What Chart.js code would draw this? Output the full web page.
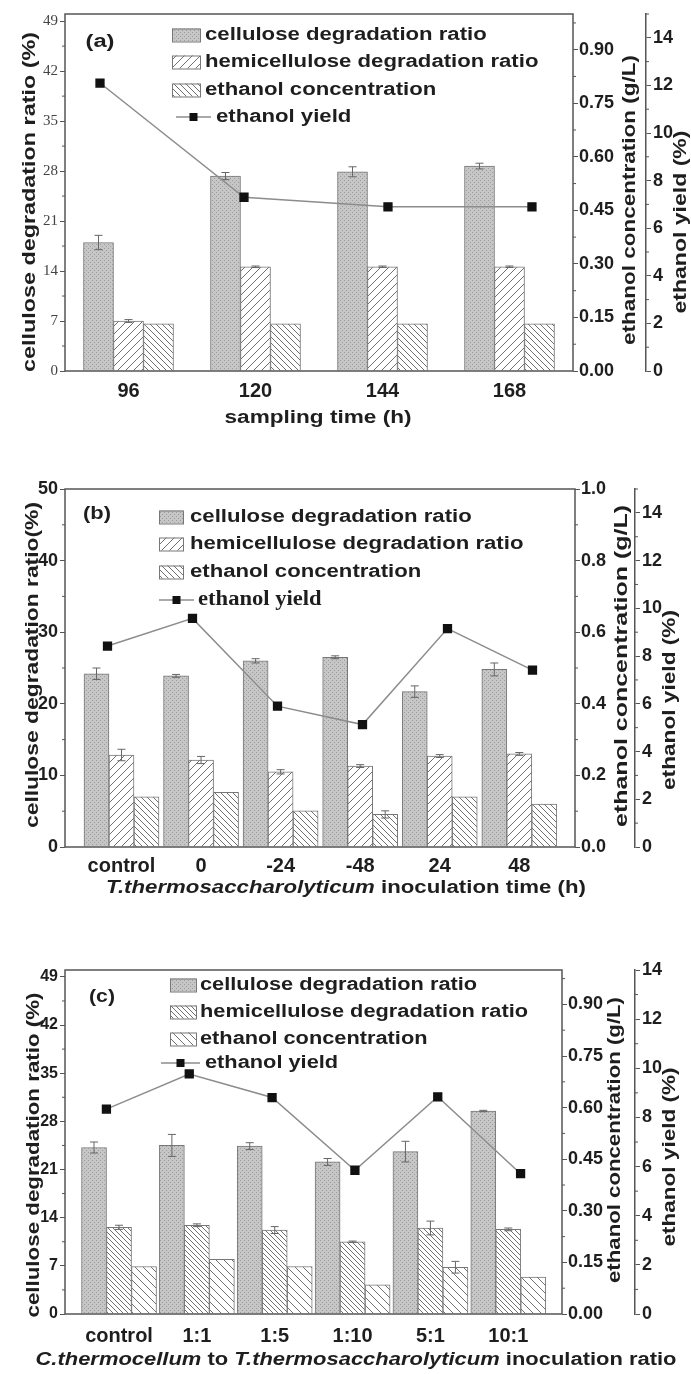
<!DOCTYPE html>
<html>
<head>
<meta charset="utf-8">
<script src="https://cdn.jsdelivr.net/npm/chart.js@4.4.0/dist/chart.umd.min.js"></script>
<style>
  html, body { margin: 0; padding: 0; background: #fff; }
  #wrap { position: relative; width: 691px; height: 1374px; }
  canvas { position: absolute; left: 0; }
</style>
</head>
<body>
<div id="wrap">
  <canvas id="ca" width="691" height="440" style="top:0"></canvas>
  <canvas id="caL" width="691" height="440" style="top:0"></canvas>
  <canvas id="cb" width="691" height="460" style="top:440px"></canvas>
  <canvas id="cbL" width="691" height="460" style="top:440px"></canvas>
  <canvas id="cc" width="691" height="474" style="top:900px"></canvas>
  <canvas id="ccL" width="691" height="474" style="top:900px"></canvas>
</div>
<script>
// ---- panel (a): sampling time
const timeLabels = ['96', '120', '144', '168'];
const celluloseA = [18.0, 27.3, 27.9, 28.7];
const celluloseErrA = [1.0, 0.5, 0.7, 0.4];
const hemiA = [7.0, 14.6, 14.6, 14.6];
const hemiErrA = [0.2, 0.1, 0.1, 0.1];
const ethanolA = [0.132, 0.132, 0.132, 0.132];
const yieldA = [12.1, 7.3, 6.9, 6.9];

// ---- panel (b): inoculation time
const inocLabels = ['control', '0', '-24', '-48', '24', '48'];
const celluloseB = [24.2, 23.9, 26.0, 26.5, 21.7, 24.8];
const celluloseErrB = [0.8, 0.2, 0.3, 0.2, 0.8, 0.9];
const hemiB = [12.85, 12.15, 10.5, 11.3, 12.7, 13.0];
const hemiErrB = [0.8, 0.5, 0.3, 0.2, 0.2, 0.2];
const ethanolB = [0.14, 0.153, 0.101, 0.091, 0.14, 0.12];
const ethanolErrB = [0, 0, 0, 0.01, 0, 0];
const yieldB = [8.42, 9.58, 5.9, 5.13, 9.15, 7.41];

// ---- panel (c): inoculation ratio
const ratioLabels = ['control', '1:1', '1:5', '1:10', '5:1', '10:1'];
const celluloseC = [24.2, 24.5, 24.4, 22.1, 23.6, 29.5];
const celluloseErrC = [0.8, 1.6, 0.5, 0.5, 1.5, 0.1];
const hemiC = [12.6, 12.9, 12.2, 10.5, 12.5, 12.3];
const hemiErrC = [0.3, 0.2, 0.5, 0.1, 1.0, 0.2];
const ethanolC = [0.138, 0.159, 0.138, 0.085, 0.136, 0.107];
const ethanolErrC = [0, 0, 0, 0, 0.017, 0];
const yieldC = [8.34, 9.77, 8.81, 5.85, 8.84, 5.71];

const W = 691;
const SANS = '"Liberation Sans", Arial, sans-serif';
const SERIF = '"Liberation Serif", "Times New Roman", serif';
const INK = '#1e1e1e';

// fill patterns
function dots() {
  const c = document.createElement('canvas');
  c.width = c.height = 4;
  const g = c.getContext('2d');
  g.fillStyle = '#c6c6c6';
  g.fillRect(0, 0, 4, 4);
  g.fillStyle = '#9c9c9c';
  g.fillRect(0, 0, 1, 1);
  g.fillRect(2, 2, 1, 1);
  return g.createPattern(c, 'repeat');
}
function hatch(dir, gap, color) {
  const c = document.createElement('canvas');
  c.width = c.height = gap;
  const g = c.getContext('2d');
  g.fillStyle = '#fff';
  g.fillRect(0, 0, gap, gap);
  g.strokeStyle = color;
  g.lineWidth = 1;
  g.beginPath();
  for (let k = -1; k <= 1; k++) {
    if (dir > 0) { g.moveTo(k * gap, gap); g.lineTo(k * gap + gap, 0); }
    else { g.moveTo(k * gap, 0); g.lineTo(k * gap + gap, gap); }
  }
  g.stroke();
  return g.createPattern(c, 'repeat');
}

// text drawn with a horizontal stretch along its own direction
function drawRuns(ctx, runs, cx, cy, opt) {
  ctx.save();
  const fam = opt.family || SANS;
  const fonts = runs.map(r => (r[1] ? 'italic ' : '') + (opt.weight || 'bold') + ' ' + opt.size + 'px ' + fam);
  let total = 0;
  const widths = runs.map((r, i) => {
    ctx.font = fonts[i];
    const w = ctx.measureText(r[0]).width;
    total += w;
    return w;
  });
  const sx = opt.len ? opt.len / total : (opt.sx || 1);
  ctx.translate(cx, cy);
  if (opt.rot) ctx.rotate(opt.rot);
  ctx.scale(sx, 1);
  ctx.fillStyle = INK;
  ctx.textBaseline = 'middle';
  ctx.textAlign = 'left';
  let x = opt.align === 'left' ? 0 : -total / 2;
  runs.forEach((r, i) => {
    ctx.font = fonts[i];
    ctx.fillText(r[0], x, 0);
    x += widths[i];
  });
  ctx.restore();
}

function decorPlugin(p) {
  return {
    id: 'decor',
    afterDatasetDraw(chart, args) {
      const ds = chart.data.datasets[args.index];
      if (!ds.errors) return;
      const ctx = chart.ctx;
      const ys = chart.scales[args.meta.yAxisID];
      ctx.save();
      ctx.strokeStyle = '#666';
      ctx.lineWidth = 1;
      args.meta.data.forEach((el, j) => {
        const e = ds.errors[j];
        if (!e) return;
        const v = ds.data[j].y;
        const y1 = ys.getPixelForValue(v + e);
        const y2 = ys.getPixelForValue(v - e);
        ctx.beginPath();
        ctx.moveTo(el.x, y1); ctx.lineTo(el.x, y2);
        ctx.moveTo(el.x - 4, y1); ctx.lineTo(el.x + 4, y1);
        ctx.moveTo(el.x - 4, y2); ctx.lineTo(el.x + 4, y2);
        ctx.stroke();
      });
      ctx.restore();
    },
    afterDraw(chart) {
      const ctx = chart.ctx;
      const a = chart.chartArea;
      ctx.save();
      // frame
      ctx.strokeStyle = '#555';
      ctx.lineWidth = 1.5;
      ctx.strokeRect(a.left, a.top, a.right - a.left, a.bottom - a.top);
      // minor ticks
      ctx.lineWidth = 1;
      ['y', 'yConc', 'yYield'].forEach(id => {
        const s = chart.scales[id];
        const t = s.ticks.map(k => k.value);
        const step = t[1] - t[0];
        const x0 = id === 'y' ? s.right : s.left;
        const dir = id === 'y' ? -1 : 1;
        for (let v = t[0] + step / 2; v <= s.max + 1e-9; v += step) {
          const py = s.getPixelForValue(v);
          ctx.beginPath();
          ctx.moveTo(x0, py);
          ctx.lineTo(x0 + dir * 3, py);
          ctx.stroke();
        }
      });
      // legend
      const lg = p.legend;
      chart.data.datasets.forEach((d, i) => {
        const y = lg.rows[i];
        ctx.fillStyle = d.backgroundColor;
        ctx.fillRect(lg.swX, y - lg.swH / 2, lg.swW, lg.swH);
        ctx.strokeStyle = '#777';
        ctx.strokeRect(lg.swX + 0.5, y - lg.swH / 2 + 0.5, lg.swW, lg.swH);
        drawRuns(ctx, [[d.label]], lg.textX, y, {size: 18, sx: lg.sx, align: 'left'});
      });
      const ly = lg.rows[3];
      ctx.strokeStyle = '#8c8c8c';
      ctx.lineWidth = 1.5;
      ctx.beginPath();
      ctx.moveTo(lg.lineX1, ly); ctx.lineTo(lg.lineX2, ly);
      ctx.stroke();
      ctx.fillStyle = '#111';
      const mx = (lg.lineX1 + lg.lineX2) / 2;
      ctx.fillRect(mx - 4, ly - 4, 8, 8);
      drawRuns(ctx, [['ethanol yield']], lg.lineText, ly,
        {size: lg.serif ? 20 : 18, sx: lg.lineSx, align: 'left', family: lg.serif ? SERIF : SANS});
      // panel letter
      drawRuns(ctx, [[p.letter.text]], p.letter.x, p.letter.y, {size: 18, len: p.letter.len});
      // axis titles
      const tt = p.titles;
      drawRuns(ctx, tt.left.runs, tt.left.cx, tt.left.cy, {size: 18, len: tt.left.len, rot: -Math.PI / 2});
      drawRuns(ctx, tt.conc.runs, tt.conc.cx, tt.conc.cy, {size: 18, len: tt.conc.len, rot: -Math.PI / 2});
      drawRuns(ctx, tt.yld.runs, tt.yld.cx, tt.yld.cy, {size: 18, len: tt.yld.len, rot: -Math.PI / 2});
      drawRuns(ctx, tt.bottom.runs, tt.bottom.cx, tt.bottom.cy, {size: 18, len: tt.bottom.len});
      ctx.restore();
    }
  };
}

function buildChart(p) {
  const pts = arr => arr.map((v, i) => ({x: i, y: v}));
  const tickFont = {family: SANS, size: 18, weight: 'bold'};
  const H = p.h;
  // bars, axes and text
  new Chart(document.getElementById(p.id), {
    type: 'bar',
    data: {
      datasets: [
        {label: 'cellulose degradation ratio', data: pts(p.cellulose), errors: p.celluloseErr,
         backgroundColor: dots(), borderColor: '#777', borderWidth: 1, xAxisID: 'x', yAxisID: 'y'},
        {label: 'hemicellulose degradation ratio', data: pts(p.hemi), errors: p.hemiErr,
         backgroundColor: p.hemiPat, borderColor: '#777', borderWidth: 1, xAxisID: 'x', yAxisID: 'y'},
        {label: 'ethanol concentration', data: pts(p.ethanol), errors: p.ethanolErr,
         backgroundColor: p.ethPat, borderColor: '#777', borderWidth: 1, xAxisID: 'x', yAxisID: 'yConc'}
      ]
    },
    options: {
      responsive: false,
      animation: false,
      barThickness: p.barW,
      layout: {padding: {top: p.area.top, left: 0, right: 0, bottom: 0}, autoPadding: false},
      plugins: {legend: {display: false}, tooltip: {enabled: false}},
      scales: {
        x: {
          type: 'linear', position: 'bottom', min: p.barMin, max: p.barMax, offset: false,
          afterBuildTicks: s => { s.ticks = p.labels.map((_, i) => ({value: i})); },
          afterFit: s => { s.height = H - p.area.bottom; },
          grid: {display: false, offset: false}, border: {display: false},
          ticks: {callback: v => p.labels[v], font: {family: SANS, size: 20, weight: 'bold'},
                  color: INK, padding: p.xTickPad, maxRotation: 0, autoSkip: false}
        },
        y: {
          position: 'left', min: 0, max: 50,
          afterFit: s => { s.width = p.area.left; },
          grid: {drawOnChartArea: false, tickLength: 5, color: '#555'}, border: {display: false},
          ticks: {stepSize: p.leftStep, includeBounds: false, font: p.leftFont, color: p.leftColor, padding: 2}
        },
        yConc: {
          position: 'right', min: 0, max: 1, weight: 0,
          afterFit: s => { s.width = p.yieldX - p.area.right; },
          grid: {drawOnChartArea: false, tickLength: 5, color: '#555'}, border: {display: false},
          ticks: {stepSize: p.concStep, includeBounds: false, font: tickFont, color: INK, padding: 1,
                  callback: v => v.toFixed(p.concDigits)}
        },
        yYield: {
          position: 'right', min: 0, max: p.yieldMax, weight: 1,
          afterFit: s => { s.width = W - p.yieldX; },
          grid: {drawOnChartArea: false, tickLength: 5, color: '#555'},
          border: {display: true, color: '#555', width: 1.5},
          ticks: {stepSize: 2, includeBounds: false, font: tickFont, color: INK, padding: 2}
        }
      }
    },
    plugins: [decorPlugin(p)]
  });
  // ethanol yield line on a transparent chart over the same plot area
  new Chart(document.getElementById(p.id + 'L'), {
    type: 'line',
    data: {
      datasets: [{label: 'ethanol yield', data: pts(p.yields), borderColor: '#8c8c8c', borderWidth: 1.5,
                  pointStyle: 'rect', pointRadius: 5.5, pointBackgroundColor: '#111', pointBorderColor: '#111'}]
    },
    options: {
      responsive: false,
      animation: false,
      layout: {padding: {left: p.area.left, right: W - p.area.right, top: p.area.top, bottom: H - p.area.bottom},
               autoPadding: false},
      plugins: {legend: {display: false}, tooltip: {enabled: false}},
      scales: {
        x: {type: 'linear', display: false, min: p.lineMin, max: p.lineMax},
        y: {display: false, min: 0, max: p.yieldMax}
      }
    }
  });
}

const leftTitle = [['cellulose degradation ratio (%)']];
const concTitle = [['ethanol concentration (g/L)']];
const yieldTitle = [['ethanol yield (%)']];

buildChart({
  id: 'ca', h: 440, labels: timeLabels,
  cellulose: celluloseA, celluloseErr: celluloseErrA, hemi: hemiA, hemiErr: hemiErrA,
  ethanol: ethanolA, ethanolErr: null, yields: yieldA,
  area: {left: 65, right: 573, top: 14, bottom: 371}, yieldX: 646,
  barMin: -0.5, barMax: 3.5, barW: 30, lineMin: -0.243, lineMax: 3.285,
  leftStep: 7, leftFont: {family: SERIF, size: 15, weight: 'normal'}, leftColor: '#444',
  concStep: 0.15, concDigits: 2, yieldMax: 15, xTickPad: 0,
  hemiPat: hatch(1, 8, '#707070'), ethPat: hatch(-1, 6, '#707070'),
  letter: {text: '(a)', x: 100, y: 42, len: 29},
  legend: {swX: 172, swW: 28, swH: 13, textX: 205, rows: [35, 62, 90, 117], sx: 1.23,
           lineX1: 176, lineX2: 211, lineText: 216, lineSx: 1.23, serif: false},
  titles: {
    left: {runs: leftTitle, cx: 30, cy: 202, len: 340},
    conc: {runs: concTitle, cx: 630, cy: 200, len: 290},
    yld: {runs: yieldTitle, cx: 681, cy: 222, len: 183},
    bottom: {runs: [['sampling time (h)']], cx: 318, cy: 418, len: 187}
  }
});

buildChart({
  id: 'cb', h: 460, labels: inocLabels,
  cellulose: celluloseB, celluloseErr: celluloseErrB, hemi: hemiB, hemiErr: hemiErrB,
  ethanol: ethanolB, ethanolErr: ethanolErrB, yields: yieldB,
  area: {left: 65, right: 575, top: 49, bottom: 407}, yieldX: 635,
  barMin: -0.71, barMax: 5.70, barW: 25, lineMin: -0.5, lineMax: 5.5,
  leftStep: 10, leftFont: {family: SANS, size: 18, weight: 'bold'}, leftColor: INK,
  concStep: 0.2, concDigits: 1, yieldMax: 15, xTickPad: -1,
  hemiPat: hatch(1, 8, '#707070'), ethPat: hatch(-1, 6, '#707070'),
  letter: {text: '(b)', x: 97, y: 74, len: 28},
  legend: {swX: 159, swW: 24, swH: 13, textX: 190, rows: [77, 104, 132, 160], sx: 1.23,
           lineX1: 159, lineX2: 194, lineText: 198, lineSx: 1.13, serif: true},
  titles: {
    left: {runs: [['cellulose degradation ratio(%)']], cx: 33, cy: 225, len: 326},
    conc: {runs: concTitle, cx: 622, cy: 226, len: 322},
    yld: {runs: yieldTitle, cx: 670, cy: 260, len: 180},
    bottom: {runs: [['T.thermosaccharolyticum', true], [' inoculation time (h)']], cx: 346, cy: 448, len: 480}
  }
});

buildChart({
  id: 'cc', h: 474, labels: ratioLabels,
  cellulose: celluloseC, celluloseErr: celluloseErrC, hemi: hemiC, hemiErr: hemiErrC,
  ethanol: ethanolC, ethanolErr: ethanolErrC, yields: yieldC,
  area: {left: 65, right: 562, top: 70, bottom: 414}, yieldX: 635,
  barMin: -0.694, barMax: 5.69, barW: 25, lineMin: -0.5, lineMax: 5.5,
  leftStep: 7, leftFont: {family: SANS, size: 16, weight: 'bold'}, leftColor: INK,
  concStep: 0.15, concDigits: 2, yieldMax: 14, xTickPad: 2,
  hemiPat: hatch(-1, 5, '#707070'), ethPat: hatch(-1, 8, '#707070'),
  letter: {text: '(c)', x: 102, y: 97, len: 26},
  legend: {swX: 170, swW: 26, swH: 13, textX: 200, rows: [85, 112, 139, 163], sx: 1.21,
           lineX1: 161, lineX2: 200, lineText: 205, lineSx: 1.21, serif: false},
  titles: {
    left: {runs: leftTitle, cx: 34, cy: 255, len: 325},
    conc: {runs: concTitle, cx: 615, cy: 240, len: 286},
    yld: {runs: yieldTitle, cx: 670, cy: 257, len: 179},
    bottom: {runs: [['C.thermocellum', true], [' to '], ['T.thermosaccharolyticum', true], [' inoculation ratio']],
             cx: 356, cy: 460, len: 641}
  }
});
</script>
</body>
</html>
